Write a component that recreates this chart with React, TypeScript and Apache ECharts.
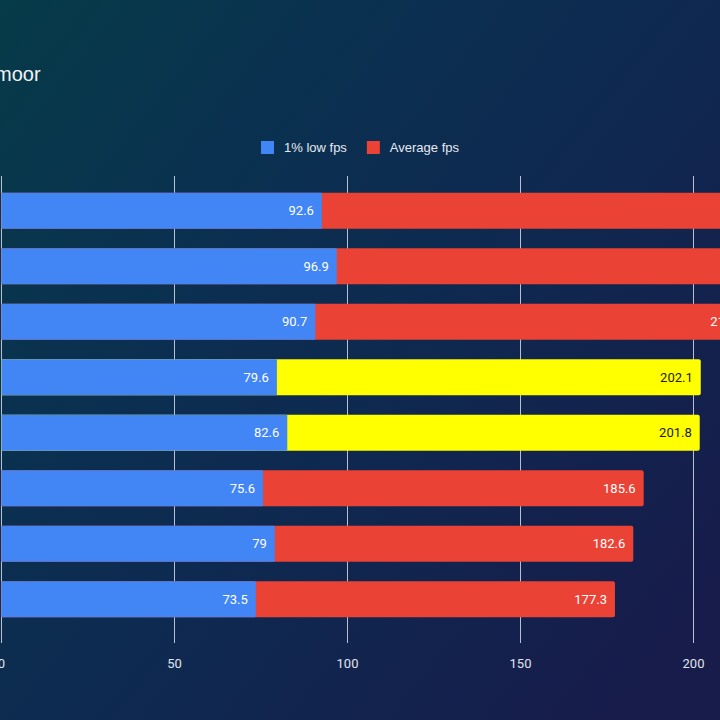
import React, { useEffect, useRef } from "react";
import * as echarts from "echarts";

// Benchmark rows, top to bottom
const categories = ["1", "2", "3", "4", "5", "6", "7", "8"];
const lowFps = [92.6, 96.9, 90.7, 79.6, 82.6, 75.6, 79, 73.5];
const avgFps = [225.4, 229.0, 216.6, 202.1, 201.8, 185.6, 182.6, 177.3];
// Rows whose average bar is highlighted
const highlightRows = [3, 4];

const xTicks = { min: 0, max: 250, interval: 50 };

const BLUE = "#4285f4";
const RED = "#ea4335";
const YELLOW = "#ffff00";
const GRID_COLOR = "rgba(214,219,232,0.85)";

export default function App() {
  const ref = useRef<HTMLDivElement>(null);

  useEffect(() => {
    if (!ref.current) return;
    const chart = echarts.init(ref.current, undefined, { renderer: "svg" });

    const avgData = avgFps.map((v, i) =>
      highlightRows.includes(i)
        ? { value: v, itemStyle: { color: YELLOW }, label: { color: "#1a1a1a" } }
        : { value: v }
    );

    const valueLabel = {
      show: true,
      position: "insideRight" as const,
      distance: 8,
      color: "#ffffff",
      fontFamily: "Roboto",
      fontSize: 13,
    };

    chart.setOption({
      animation: false,
      backgroundColor: new echarts.graphic.LinearGradient(0, 0, 1, 0.8, [
        { offset: 0, color: "#063b48" },
        { offset: 0.3, color: "#0a3150" },
        { offset: 0.62, color: "#0f2850" },
        { offset: 1, color: "#171c4b" },
      ]),
      graphic: [
        {
          type: "text",
          x: -5,
          y: 74,
          style: {
            text: "moor",
            fill: "#f2f4f8",
            fontFamily: "Liberation Sans",
            fontSize: 20,
            verticalAlign: "middle",
          },
        },
      ],
      legend: {
        data: ["1% low fps", "Average fps"],
        left: "center",
        top: 136,
        icon: "rect",
        itemWidth: 13,
        itemHeight: 13,
        itemGap: 20,
        textStyle: {
          color: "#e6e9f0",
          fontFamily: "Liberation Sans",
          fontSize: 13,
          padding: [0, 0, 0, 5],
        },
      },
      grid: {
        left: 1.5,
        top: 183,
        width: 865,
        height: 444,
        containLabel: false,
        outerBoundsMode: "none",
      },
      xAxis: [
        {
          type: "value",
          position: "bottom",
          ...xTicks,
          axisLine: { show: false },
          axisTick: { show: true, length: 16, lineStyle: { color: GRID_COLOR, width: 1 } },
          splitLine: { show: true, lineStyle: { color: GRID_COLOR, width: 1 } },
          axisLabel: {
            color: "#e0e4ec",
            fontFamily: "Roboto",
            fontSize: 13,
            margin: 30,
          },
        },
        {
          type: "value",
          position: "top",
          ...xTicks,
          axisLine: { show: false },
          axisTick: { show: true, length: 7, lineStyle: { color: GRID_COLOR, width: 1 } },
          splitLine: { show: false },
          axisLabel: { show: false },
        },
      ],
      yAxis: {
        type: "category",
        data: categories,
        inverse: true,
        axisLine: { show: false },
        axisTick: { show: false },
        axisLabel: { show: false },
        splitLine: { show: false },
      },
      series: [
        {
          name: "Average fps",
          type: "bar",
          data: avgData,
          barWidth: 36,
          barGap: "-100%",
          itemStyle: { color: RED, borderRadius: [0, 2, 2, 0] },
          label: valueLabel,
          z: 2,
        },
        {
          name: "1% low fps",
          type: "bar",
          data: lowFps,
          barWidth: 36,
          barGap: "-100%",
          itemStyle: { color: BLUE, borderRadius: [0, 1, 1, 0] },
          label: valueLabel,
          z: 3,
        },
      ],
    });

    return () => chart.dispose();
  }, []);

  return (
    <div
      ref={ref}
      style={{ position: "fixed", left: 0, top: 0, width: 720, height: 720 }}
    />
  );
}
